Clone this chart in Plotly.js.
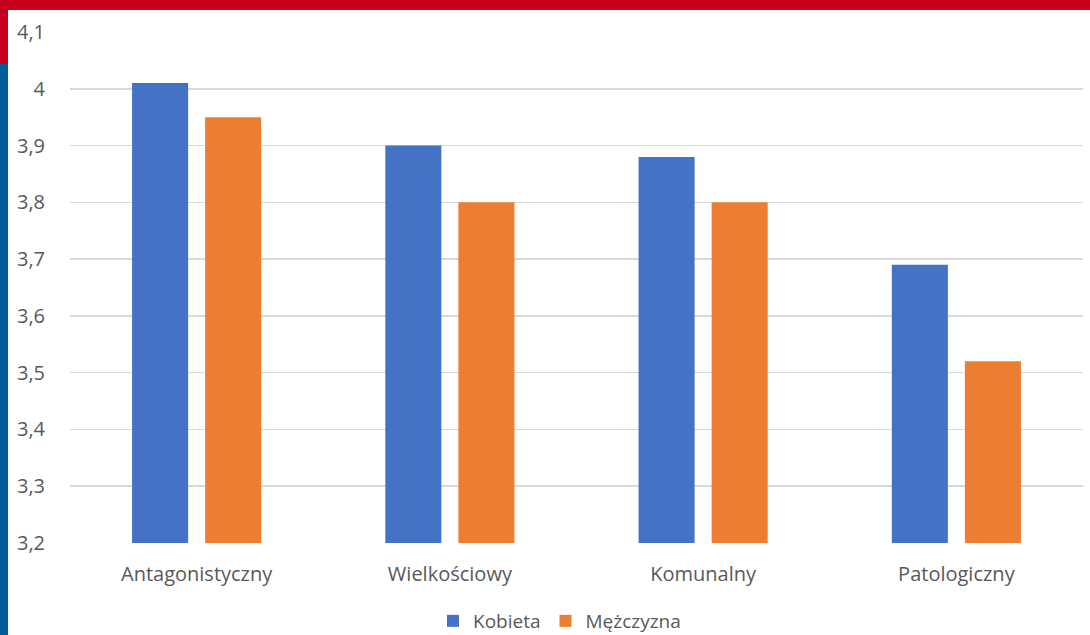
<!DOCTYPE html>
<html><head><meta charset="utf-8">
<script src="https://cdn.plot.ly/plotly-3.0.1.min.js"></script>
<style>html,body{margin:0;padding:0;background:#fff;}#chart{width:1090px;height:635px;}</style>
</head><body><div id="chart"></div>
<script>
const categories = ["Antagonistyczny", "Wielkościowy", "Komunalny", "Patologiczny"];
const kobieta = [4.01, 3.90, 3.88, 3.69];
const mezczyzna = [3.95, 3.80, 3.80, 3.52];
const seriesNames = ["Kobieta", "Mężczyzna"];
const yTicks = [3.2, 3.3, 3.4, 3.5, 3.6, 3.7, 3.8, 3.9, 4.0, 4.1];

const W = 1090, H = 635, L = 70, R = 7, T = 32, B = 92;
const pw = W - L - R, ph = H - T - B;
const px = x => (x - L) / pw;
const py = y => (H - B - y) / ph;

const traces = [
  {type: 'bar', x: categories, y: kobieta, name: seriesNames[0], marker: {color: '#4472C4'}, hoverinfo: 'y'},
  {type: 'bar', x: categories, y: mezczyzna, name: seriesNames[1], marker: {color: '#ED7D31'}, hoverinfo: 'y'}
];

const layout = {
  width: W, height: H,
  margin: {l: L, r: R, t: T, b: B, pad: 0, autoexpand: false},
  paper_bgcolor: '#ffffff', plot_bgcolor: '#ffffff',
  separators: ', ',
  font: {family: 'Open Sans, Lato, sans-serif', size: 20, color: '#595959'},
  barmode: 'group', bargap: 0.423, bargroupgap: 0.233,
  showlegend: true,
  legend: {orientation: 'h', x: 0.5 - 17 / pw, xanchor: 'center', yref: 'container', y: (H - 621) / H, yanchor: 'middle',
           font: {size: 19, color: '#595959'}, itemwidth: 30, tracegroupgap: 0},
  xaxis: {showgrid: false, showline: false, zeroline: false, ticks: '', ticklabelstandoff: 17,
          tickfont: {size: 20, color: '#595959'}},
  yaxis: {range: [3.2, 4.1], tickvals: yTicks, showgrid: true, gridcolor: '#d9d9d9', gridwidth: 1.5,
          zeroline: false, showline: false, ticks: '', ticklabelstandoff: 24,
          tickfont: {size: 20, color: '#595959'}},
  shapes: [
    {type: 'rect', xref: 'paper', yref: 'paper', x0: px(0), x1: px(W), y0: py(0), y1: py(10),
     fillcolor: '#C8001E', line: {width: 0}, layer: 'above'},
    {type: 'rect', xref: 'paper', yref: 'paper', x0: px(0), x1: px(8), y0: py(0), y1: py(64),
     fillcolor: '#C8001E', line: {width: 0}, layer: 'above'},
    {type: 'rect', xref: 'paper', yref: 'paper', x0: px(0), x1: px(8), y0: py(64), y1: py(H),
     fillcolor: '#005F9A', line: {width: 0}, layer: 'above'}
  ]
};

Plotly.newPlot('chart', traces, layout, {displayModeBar: false, staticPlot: true});
</script>
</body></html>
